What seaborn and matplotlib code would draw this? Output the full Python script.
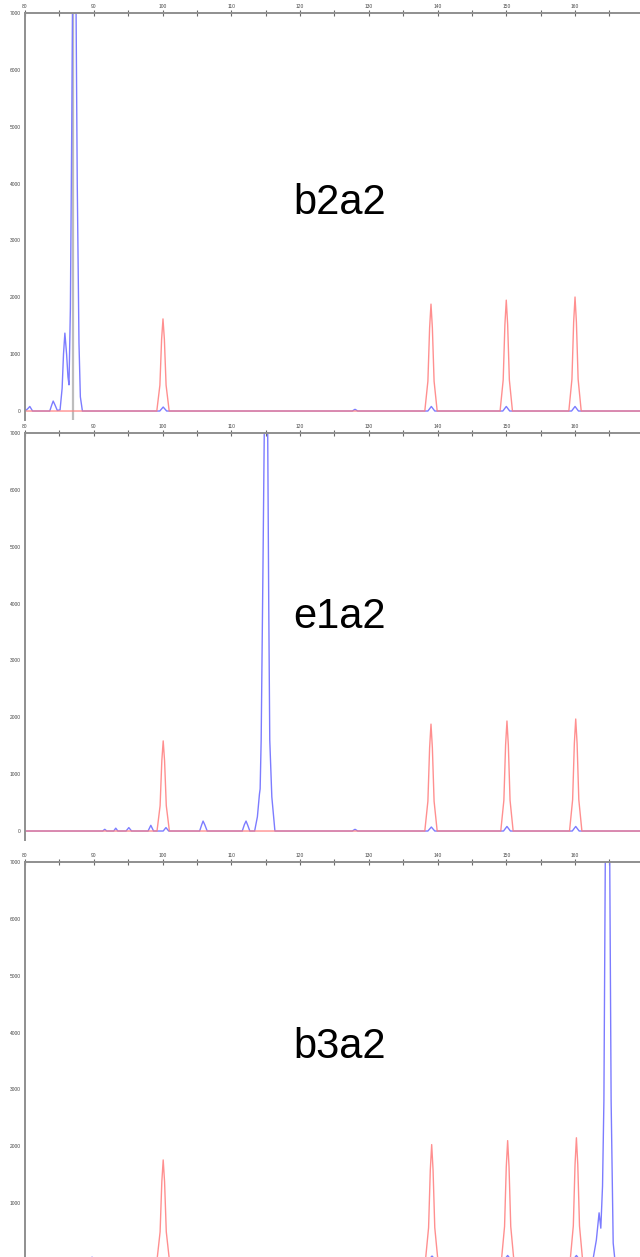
import matplotlib
matplotlib.use("Agg")
import matplotlib.pyplot as plt
import seaborn as sns
import pandas as pd
from matplotlib.ticker import MultipleLocator

sns.set_style("white")
plt.rcParams['font.family'] = ['Liberation Sans', 'DejaVu Sans']

# sample names shown in each panel
labels = ['b2a2', 'e1a2', 'b3a2']

# panel 1 (b2a2) traces, size (bp) vs signal
p1_red_x = [80, 99.17, 99.62, 99.87, 100.07, 100.27, 100.52, 100.97,
            138.15, 138.6, 138.85, 139.05, 139.25, 139.5, 139.95,
            149.1, 149.55, 149.8, 150.0, 150.2, 150.45, 150.9,
            159.1, 159.55, 159.8, 160.0, 160.2, 160.45, 160.9, 169.5]
p1_red_y = [0, 0, 455, 1265, 1620, 1265, 455, 0,
            0, 525, 1465, 1880, 1465, 525, 0,
            0, 545, 1520, 1950, 1520, 545, 0,
            0, 560, 1565, 2005, 1565, 560, 0, 0]
p1_blue_x = [80, 80.4, 80.7, 81.1, 83.6, 83.9, 84.1, 84.35, 84.7,
             85.1, 85.4, 85.6, 85.8, 86.05, 86.25, 86.4, 86.6, 86.8, 86.91,
             87.17, 87.43, 87.6, 87.85, 88.05, 88.35,
             99.6, 100.1, 100.6, 127.6, 128.0, 128.4,
             138.6, 139.1, 139.6, 149.5, 150.0, 150.5, 159.5, 160.0, 160.5, 169.5]
p1_blue_y = [0, 40, 80, 0, 0, 110, 175, 110, 10,
             20, 400, 1000, 1370, 1000, 600, 460, 1800, 5000, 7000,
             11000, 7000, 4000, 1200, 250, 0,
             0, 70, 0, 0, 30, 0,
             0, 80, 0, 0, 80, 0, 0, 80, 0, 0]

# panel 2 (e1a2)
p2_red_x = [80, 99.2, 99.65, 99.9, 100.1, 100.3, 100.55, 101.0,
            138.15, 138.6, 138.85, 139.05, 139.25, 139.5, 139.95,
            149.2, 149.65, 149.9, 150.1, 150.3, 150.55, 151.0,
            159.2, 159.65, 159.9, 160.1, 160.3, 160.55, 161.0, 169.5]
p2_red_y = [0, 0, 445, 1235, 1585, 1235, 445, 0,
            0, 525, 1465, 1880, 1465, 525, 0,
            0, 540, 1510, 1935, 1510, 540, 0,
            0, 550, 1540, 1970, 1540, 550, 0, 0]
p2_blue_x = [80, 91.3, 91.6, 91.9, 92.9, 93.2, 93.5, 94.7, 95.1, 95.5,
             97.9, 98.3, 98.7, 100.1, 100.5, 100.9,
             105.4, 105.7, 105.9, 106.15, 106.5,
             111.6, 111.9, 112.15, 112.4, 112.7,
             113.4, 113.8, 114.1, 114.2, 114.35, 114.6, 114.8, 115.05,
             115.3, 115.45, 115.6, 115.9, 116.35,
             127.6, 128.0, 128.4, 138.6, 139.1, 139.6,
             149.6, 150.1, 150.6, 159.6, 160.1, 160.6, 169.5]
p2_blue_y = [0, 0, 30, 0, 0, 50, 0, 0, 60, 0,
             0, 100, 0, 0, 60, 0,
             0, 110, 175, 110, 0,
             0, 110, 175, 100, 0,
             0, 250, 650, 740, 1600, 4500, 7000, 10500,
             7000, 4000, 1600, 600, 0,
             0, 30, 0, 0, 70, 0,
             0, 80, 0, 0, 80, 0, 0]

# panel 3 (b3a2)
p3_red_x = [80, 99.2, 99.65, 99.9, 100.1, 100.3, 100.55, 101.0,
            138.25, 138.7, 138.95, 139.15, 139.35, 139.6, 140.05,
            149.3, 149.75, 150.0, 150.2, 150.4, 150.65, 151.1,
            159.3, 159.75, 160.0, 160.2, 160.4, 160.65, 161.1, 169.5]
p3_red_y = [0, 0, 495, 1375, 1760, 1375, 495, 0,
            0, 570, 1585, 2030, 1585, 570, 0,
            0, 590, 1640, 2100, 1640, 590, 0,
            0, 600, 1675, 2150, 1675, 600, 0, 0]
p3_blue_x = [80, 89.3, 89.75, 90.2, 138.7, 139.2, 139.7,
             149.7, 150.2, 150.7, 159.7, 160.2, 160.7,
             162.6, 163.1, 163.5, 163.75, 164.0, 164.2, 164.4, 164.75,
             165.05, 165.25, 165.55, 165.8, 169.5]
p3_blue_y = [0, 0, 50, 0, 0, 70, 0,
             0, 80, 0, 0, 80, 0,
             0, 350, 830, 560, 1300, 2800, 7000, 12000,
             7000, 2800, 300, 0, 0]

traces = [(p1_red_x, p1_red_y, p1_blue_x, p1_blue_y),
          (p2_red_x, p2_red_y, p2_blue_x, p2_blue_y),
          (p3_red_x, p3_red_y, p3_blue_x, p3_blue_y)]

W, H = 640, 1257
fig = plt.figure(figsize=(W / 100, H / 100), dpi=100)

# panel boxes in pixels: (top, bottom), y axis bottom value
boxes = [(13, 420, -158), (433, 840, -158), (862, 1257, 53)]
label_y = [203, 617, 1047]

for i, (top, bottom, ymin) in enumerate(boxes):
    ax = fig.add_axes([25 / W, 1 - bottom / H, 615 / W, (bottom - top) / H])
    rx, ry, bx, by = traces[i]
    sns.lineplot(data=pd.DataFrame({'size': bx, 'rfu': by}), x='size', y='rfu',
                 estimator=None, sort=False, color='#7c7cff', lw=1.0, ax=ax)
    sns.lineplot(data=pd.DataFrame({'size': rx, 'rfu': ry}), x='size', y='rfu',
                 estimator=None, sort=False, color='#ff7c7c', lw=1.0,
                 alpha=0.85, ax=ax)
    if i == 0:
        ax.axvline(87.05, ymin=0.0, ymax=1.0, color='#bdbdbd', lw=1.6, zorder=0)
    ax.set_xlim(80, 169.45)
    ax.set_ylim(ymin, 7000)
    ax.set_xlabel('')
    ax.set_ylabel('')
    for s in ['bottom', 'right']:
        ax.spines[s].set_visible(False)
    for s in ['top', 'left']:
        ax.spines[s].set_color('#8f8f8f')
        ax.spines[s].set_linewidth(1.4)
    ax.xaxis.tick_top()
    ax.xaxis.set_major_locator(MultipleLocator(10))
    ax.xaxis.set_minor_locator(MultipleLocator(5))
    ax.yaxis.set_major_locator(MultipleLocator(1000))
    ax.yaxis.set_minor_locator(MultipleLocator(500))
    ax.tick_params(which='both', direction='inout', length=4, width=0.8,
                   color='#6a6a6a', labelsize=3.5, labelcolor='#444444', pad=1)
    ax.set_yticks([t for t in range(0, 7001, 1000) if t >= ymin])
    ax.set_facecolor('white')
    fig.text(340 / W, 1 - label_y[i] / H, labels[i], fontsize=30,
             ha='center', va='center', color='black')

fig.savefig('out.png', dpi=100)
